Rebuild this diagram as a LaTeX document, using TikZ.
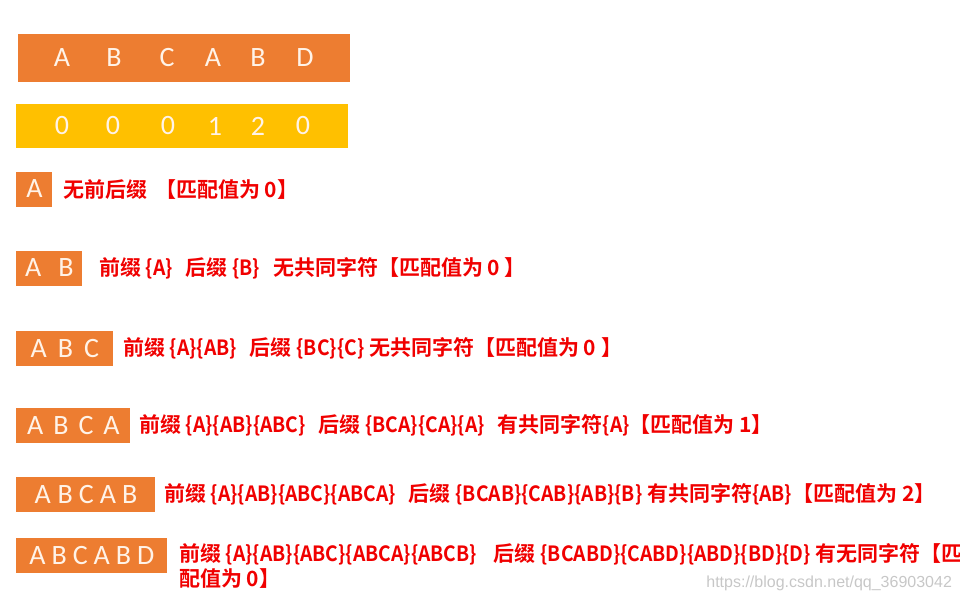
\documentclass[tikz,border=0pt]{standalone}
\usepackage{fontspec}
\setmainfont{Carlito}
\newfontfamily\cjkfont{Noto Sans CJK SC Bold}
\newfontfamily\latfont{Noto Sans CJK SC Bold}[FakeStretch=0.92]
\newfontfamily\markfont{Liberation Sans}
\usetikzlibrary{positioning}
\definecolor{kmporange}{RGB}{237,125,49}
\definecolor{kmpyellow}{RGB}{255,192,0}
\definecolor{kmpred}{RGB}{240,0,0}
\definecolor{kmpletter}{RGB}{255,243,232}
\newcommand\grp[1]{{\latfont\{#1\}}}

\begin{document}
\begin{tikzpicture}[
    x=0.5pt, y=-0.5pt,
    bar/.style={inner sep=0, anchor=north west, minimum width=166pt, minimum height=24pt},
    cell/.style={text=kmpletter, font=\fontsize{14}{14}\selectfont, inner sep=0},
    tag/.style={fill=kmporange, text=kmpletter, font=\fontsize{14}{14}\selectfont, inner sep=0, minimum height=17.5pt, anchor=west},
    note/.style={text=kmpred, font=\cjkfont\fontsize{10.5}{12.5}\selectfont, inner sep=0, anchor=west},
]
    \useasboundingbox (0,0) rectangle (960,602);

    % pattern and its partial match values
    \node[bar, fill=kmporange] (word) at (18,34) {};
    \node[bar, fill=kmpyellow, minimum height=22pt] (next) at (16,104) {};
    \foreach \x/\c [count=\i] in {62/A,114/B,167/C,213/A,258/B,305/D}
        \node[cell] (w\i) at (\x,58) {\c};
    \foreach \x/\c [count=\i] in {62/0,113/0,168/0,215/1,258/2,303/0}
        \node[cell] (n\i) at (\x,126) {\c};

    % prefixes of the pattern
    \node[tag, minimum width=18pt] (r1) at (16,189) {A};
    \node[tag, minimum width=33pt] (r2) at (16,268) {A\hspace{8.5pt}B};
    \node[tag, minimum width=48.5pt] (r3) at (16,348) {A\hspace{5.5pt}B\hspace{5.5pt}C};
    \node[tag, minimum width=57pt] (r4) at (16,425) {A\hspace{5pt}B\hspace{5pt}C\hspace{5pt}A};
    \node[tag, minimum width=69.5pt] (r5) at (16,494) {A\hspace{3.5pt}B\hspace{3pt}C\hspace{3pt}A\hspace{3pt}B};
    \node[tag, minimum width=75.5pt] (r6) at (16,555) {A\hspace{3pt}B\hspace{3pt}C\hspace{3pt}A\hspace{3pt}B\hspace{3pt}D};

    \node[note, right=5pt of r1] (t1) {无前后缀\hspace{4pt}【匹配值为 0】};
    \node[note, right=8pt of r2] (t2) {前缀 \grp{A}\hspace{4pt} 后缀 \grp{B}\hspace{4pt} 无共同字符【匹配值为 0 】};
    \node[note, right=4.5pt of r3] (t3) {前缀 \grp{A}\grp{AB}\hspace{4pt} 后缀 \grp{BC}\grp{C} 无共同字符【匹配值为 0 】};
    \node[note, right=4pt of r4] (t4) {前缀 \grp{A}\grp{AB}\grp{ABC}\hspace{4pt} 后缀 \grp{BCA}\grp{CA}\grp{A}\hspace{4pt} 有共同字符\grp{A}【匹配值为 1】};
    \node[note, right=4pt of r5] (t5) {前缀 \grp{A}\grp{AB}\grp{ABC}\grp{ABCA}\hspace{4pt} 后缀 \grp{BCAB}\grp{CAB}\grp{AB}\grp{B} 有共同字符\grp{AB}【匹配值为 2】};
    \node[note, anchor=north west, align=left] (t6) at ([xshift=5.5pt, yshift=-3pt]r6.north east) {前缀 \grp{A}\grp{AB}\grp{ABC}\grp{ABCA}\grp{ABCB}\hspace{6pt} 后缀 \grp{BCABD}\grp{CABD}\grp{ABD}\grp{BD}\grp{D} 有无同字符【匹\\配值为 0】};

    \node[font=\markfont\fontsize{8}{8}\selectfont, text=black!22, inner sep=0, anchor=west] (mark) at (706,583) {https://blog.csdn.net/qq\_36903042};
\end{tikzpicture}
\end{document}
